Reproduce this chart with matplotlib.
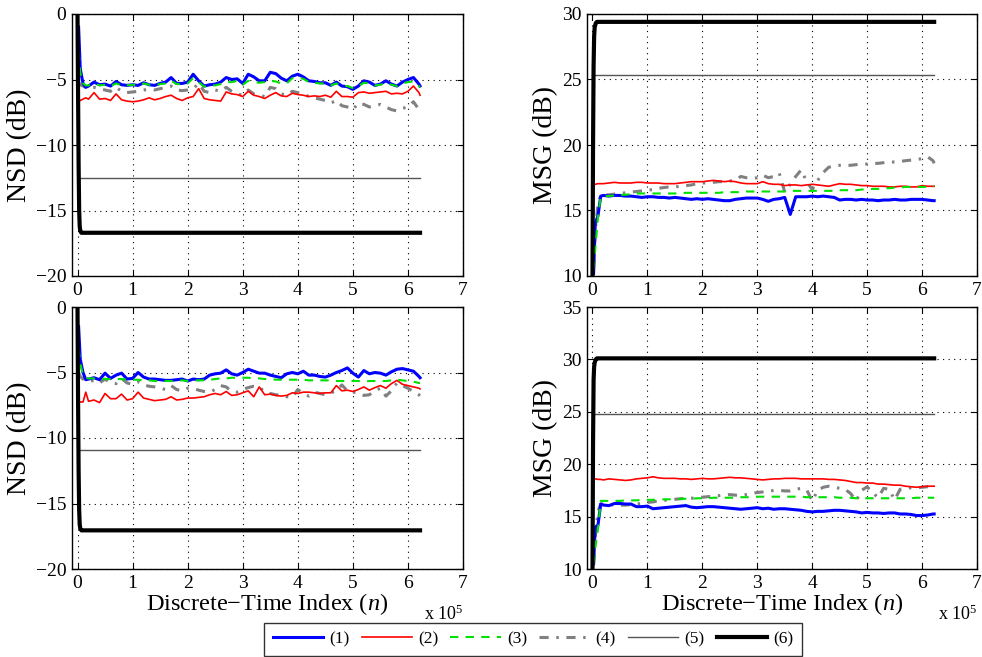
import matplotlib
matplotlib.use('Agg')
import matplotlib.pyplot as plt

plt.rcParams['font.family'] = ['Liberation Serif', 'DejaVu Serif']
plt.rcParams['mathtext.fontset'] = 'custom'
plt.rcParams['mathtext.it'] = 'Liberation Serif:italic'
plt.rcParams['mathtext.rm'] = 'Liberation Serif'

# time index in units of 1e5 samples (shared by the noisy curves)
n = [0.02, 0.05, 0.1, 0.15, 0.2, 0.3, 0.4, 0.5, 0.6, 0.7, 0.8, 0.9, 1.0,
     1.1, 1.2, 1.3, 1.4, 1.5, 1.6, 1.7, 1.8, 1.9, 2.0, 2.1, 2.2, 2.3, 2.4,
     2.5, 2.6, 2.7, 2.8, 2.9, 3.0, 3.1, 3.2, 3.3, 3.4, 3.5, 3.6, 3.7, 3.8,
     3.9, 4.0, 4.1, 4.2, 4.3, 4.4, 4.5, 4.6, 4.7, 4.8, 4.9, 5.0, 5.1, 5.2,
     5.3, 5.4, 5.5, 5.6, 5.7, 5.8, 5.9, 6.0, 6.1, 6.2, 6.22]
n_end = 6.22

# ---- top left: NSD ----
tl_1 = [-1.0, -4.2, -5.3, -5.6, -5.5, -5.2, -5.4, -5.35, -5.5, -5.15, -5.4, -5.45, -5.4,
        -5.45, -5.25, -5.4, -5.45, -5.3, -5.2, -4.85, -5.3, -5.3, -5.2, -4.6, -5.1, -5.5, -5.4,
        -5.35, -5.2, -4.85, -5.0, -4.95, -5.3, -4.6, -4.8, -5.1, -5.1, -4.45, -4.55, -4.9, -5.1,
        -4.75, -4.6, -4.8, -5.1, -5.15, -5.25, -5.25, -5.45, -5.2, -5.5, -5.55, -5.75, -5.5, -5.1,
        -5.2, -5.45, -5.35, -5.1, -5.35, -5.5, -5.2, -5.0, -4.85, -5.35, -5.5]
tl_2 = [-6.7, -6.6, -6.5, -6.4, -6.5, -6.0, -6.5, -6.45, -6.6, -6.1, -6.55, -6.65, -6.7,
        -6.65, -6.55, -6.4, -6.55, -6.45, -6.3, -6.2, -6.45, -6.6, -6.4, -6.3, -5.7, -6.45, -6.55,
        -6.6, -6.65, -5.95, -6.1, -6.15, -6.3, -5.9, -6.2, -6.3, -6.45, -6.2, -6.0, -6.25, -6.3,
        -6.05, -6.15, -6.2, -6.3, -6.25, -6.3, -6.2, -6.35, -5.9, -6.3, -6.3, -6.35, -6.0, -5.95,
        -6.05, -6.0, -5.95, -5.9, -6.1, -6.05, -6.1, -5.9, -5.5, -6.0, -6.2]
tl_3 = [-2.9, -4.5, -5.3, -5.45, -5.45, -5.3, -5.45, -5.4, -5.5, -5.3, -5.45, -5.45, -5.4,
        -5.45, -5.3, -5.4, -5.45, -5.35, -5.3, -5.1, -5.35, -5.35, -5.3, -4.9, -5.2, -5.55, -5.45,
        -5.45, -5.35, -5.2, -5.2, -5.1, -5.4, -5.1, -5.2, -5.25, -5.2, -5.1, -5.15, -5.3, -5.3,
        -4.9, -4.85, -4.95, -5.2, -5.25, -5.3, -5.3, -5.45, -5.3, -5.5, -5.5, -5.65, -5.5, -5.25,
        -5.3, -5.45, -5.4, -5.25, -5.4, -5.5, -5.3, -5.2, -5.15, -5.5, -5.6]
tl_4 = [-5.2, -5.4, -5.5, -5.6, -5.65, -5.6, -5.7, -5.8, -5.9, -5.6, -5.9, -6.0, -5.95,
        -5.9, -5.8, -5.75, -5.8, -5.7, -5.6, -5.5, -5.8, -5.85, -5.8, -5.7, -5.3, -5.9, -6.0,
        -5.8, -5.9, -5.6, -5.9, -6.1, -6.2, -5.8, -6.1, -6.2, -6.3, -5.6, -5.7, -6.1, -6.2,
        -5.9, -6.0, -6.1, -6.3, -6.4, -6.5, -6.6, -6.8, -6.6, -7.0, -7.1, -7.3, -6.8, -6.9,
        -7.1, -7.0, -6.9, -7.1, -7.3, -7.4, -7.2, -7.1, -6.7, -7.3, -7.6]
tl_5 = -12.55
tl_6_n = [0, 0.01, 0.02, 0.03, 0.04, 0.05, 0.07, 0.1, 6.22]
tl_6 = [0, -6, -11.5, -15, -16.2, -16.55, -16.7, -16.7, -16.7]

# ---- top right: MSG ----
tr_1 = [10.2, 14.0, 14.6, 16.1, 16.15, 16.1, 16.15, 16.15, 16.1, 16.1, 16.05, 16.0, 16.05,
        16.05, 16.0, 16.0, 15.95, 16.0, 15.95, 15.9, 15.85, 15.9, 15.85, 15.9, 15.85, 15.8, 15.75,
        15.75, 15.85, 15.9, 15.95, 15.95, 15.95, 15.85, 15.7, 15.85, 15.9, 16.0, 14.7, 16.05, 16.05,
        16.05, 16.1, 16.05, 16.1, 16.05, 16.0, 15.8, 15.85, 15.85, 15.8, 15.85, 15.8, 15.8, 15.75,
        15.8, 15.8, 15.85, 15.8, 15.8, 15.85, 15.85, 15.85, 15.8, 15.75, 15.75]
tr_2 = [17.0, 17.0, 17.05, 17.05, 17.05, 17.1, 17.15, 17.1, 17.1, 17.1, 17.15, 17.15, 17.1,
        17.1, 17.1, 17.05, 17.05, 17.05, 17.1, 17.15, 17.2, 17.2, 17.2, 17.25, 17.3, 17.25, 17.2,
        17.25, 17.2, 17.1, 17.05, 17.05, 17.05, 17.2, 17.05, 17.0, 17.0, 16.9, 16.95, 16.95, 16.9,
        16.95, 17.0, 16.95, 16.9, 16.85, 16.95, 17.05, 17.0, 17.0, 16.95, 16.9, 16.9, 16.85, 16.85,
        16.85, 16.8, 16.8, 16.85, 16.85, 16.8, 16.8, 16.9, 16.85, 16.85, 16.85]
tr_3 = [10.5, 12.0, 14.5, 16.05, 16.1, 16.1, 16.15, 16.2, 16.2, 16.25, 16.3, 16.3, 16.3,
        16.3, 16.3, 16.3, 16.3, 16.3, 16.3, 16.35, 16.35, 16.35, 16.35, 16.35, 16.35, 16.35, 16.4,
        16.4, 16.4, 16.4, 16.45, 16.45, 16.45, 16.45, 16.45, 16.45, 16.45, 16.45, 16.5, 16.5, 16.5,
        16.5, 16.5, 16.5, 16.5, 16.5, 16.5, 16.55, 16.55, 16.55, 16.55, 16.6, 16.6, 16.65, 16.65,
        16.7, 16.7, 16.75, 16.75, 16.8, 16.8, 16.8, 16.8, 16.8, 16.85, 16.85]
tr_4 = [10.5, 13.5, 15.5, 16.2, 16.2, 16.2, 16.25, 16.3, 16.35, 16.4, 16.45, 16.5, 16.55,
        16.6, 16.7, 16.75, 16.8, 16.8, 16.85, 16.9, 16.95, 17.05, 17.1, 17.1, 17.15, 17.2, 17.2,
        17.25, 17.3, 17.6, 17.5, 17.45, 17.5, 17.7, 17.5, 17.6, 17.85, 16.4, 17.0, 17.6, 18.1,
        17.2, 16.6, 17.3, 17.9, 18.3, 18.4, 18.45, 18.45, 18.45, 18.5, 18.55, 18.55, 18.6, 18.6,
        18.65, 18.7, 18.7, 18.75, 18.8, 18.85, 18.9, 18.95, 19.1, 18.8, 18.6]
tr_5 = 25.35
tr_6_n = [0, 0.01, 0.02, 0.03, 0.04, 0.06, 0.08, 0.1, 6.22]
tr_6 = [10, 20, 26, 28.3, 29.0, 29.3, 29.4, 29.4, 29.4]

# ---- bottom left: NSD ----
bl_1 = [-1.5, -4.0, -5.0, -5.55, -5.5, -5.4, -5.55, -5.05, -5.45, -5.2, -5.05, -5.5, -5.45,
        -5.0, -5.35, -5.5, -5.5, -5.55, -5.6, -5.6, -5.55, -5.5, -5.65, -5.5, -5.55, -5.5, -5.2,
        -5.1, -5.05, -4.8, -5.1, -5.2, -5.0, -4.75, -4.9, -5.05, -5.05, -5.2, -5.3, -5.4, -5.1,
        -5.0, -5.1, -4.9, -5.2, -5.2, -5.3, -5.35, -5.2, -5.0, -4.85, -4.65, -5.05, -5.35, -4.85,
        -5.1, -5.0, -5.05, -5.2, -4.95, -4.75, -4.7, -4.8, -4.9, -5.3, -5.4]
bl_2 = [-7.2, -7.25, -7.25, -6.5, -7.2, -7.1, -7.3, -6.6, -7.0, -7.0, -6.65, -7.1, -7.0,
        -6.5, -6.95, -7.05, -7.15, -7.1, -7.05, -6.85, -7.1, -7.05, -6.95, -6.95, -6.9, -6.85, -6.7,
        -6.6, -6.7, -6.45, -6.75, -6.7, -6.55, -6.4, -6.85, -6.1, -6.7, -6.65, -6.75, -6.8, -6.75,
        -6.55, -6.6, -6.5, -6.5, -6.55, -6.6, -6.55, -6.55, -6.0, -6.4, -6.35, -6.45, -6.3, -6.1,
        -6.35, -6.15, -6.0, -6.2, -5.85, -5.6, -5.9, -6.0, -6.1, -6.2, -6.25]
bl_3 = [-3.2, -4.3, -5.2, -5.4, -5.45, -5.45, -5.5, -5.5, -5.5, -5.5, -5.5, -5.55, -5.55,
        -5.55, -5.6, -5.6, -5.65, -5.65, -5.65, -5.65, -5.65, -5.6, -5.65, -5.6, -5.6, -5.6, -5.55,
        -5.5, -5.45, -5.45, -5.4, -5.4, -5.4, -5.4, -5.45, -5.45, -5.5, -5.5, -5.55, -5.55, -5.55,
        -5.55, -5.55, -5.55, -5.6, -5.6, -5.6, -5.6, -5.6, -5.65, -5.65, -5.65, -5.65, -5.65, -5.7,
        -5.65, -5.65, -5.65, -5.65, -5.6, -5.55, -5.6, -5.65, -5.7, -5.8, -5.8]
bl_4 = [-5.0, -5.3, -5.5, -5.6, -5.7, -5.6, -5.8, -5.5, -5.8, -5.85, -5.45, -5.8, -5.9,
        -5.7, -5.95, -6.05, -6.1, -6.2, -6.3, -6.0, -6.3, -6.4, -6.2, -6.2, -6.35, -6.45, -6.5,
        -6.3, -6.0, -6.1, -6.45, -6.5, -6.3, -6.15, -6.05, -6.1, -6.5, -6.6, -6.7, -6.75, -6.85,
        -6.9, -6.3, -6.6, -6.8, -6.5, -6.6, -6.7, -6.55, -6.4, -5.95, -6.4, -6.5, -6.55, -6.75,
        -6.7, -6.4, -6.2, -6.8, -6.4, -5.8, -6.0, -6.2, -6.45, -6.7, -6.8]
bl_5 = -10.95
bl_6_n = [0, 0.01, 0.02, 0.03, 0.04, 0.05, 0.07, 0.1, 6.22]
bl_6 = [0, -7, -12.5, -15.5, -16.6, -16.9, -17.05, -17.05, -17.05]

# ---- bottom right: MSG ----
br_1 = [10.5, 14.0, 14.2, 16.2, 16.1, 16.05, 16.25, 16.25, 16.2, 16.2, 15.95, 15.95, 16.0,
        15.75, 15.8, 15.85, 15.9, 15.95, 16.0, 16.05, 15.9, 15.85, 15.9, 15.95, 15.95, 15.9, 15.85,
        15.8, 15.75, 15.7, 15.75, 15.8, 15.85, 15.75, 15.8, 15.7, 15.75, 15.75, 15.7, 15.65, 15.6,
        15.5, 15.45, 15.5, 15.5, 15.55, 15.6, 15.6, 15.55, 15.5, 15.45, 15.35, 15.4, 15.35, 15.35,
        15.3, 15.35, 15.35, 15.25, 15.25, 15.2, 15.1, 15.1, 15.15, 15.25, 15.25]
br_2 = [18.6, 18.6, 18.55, 18.55, 18.5, 18.6, 18.55, 18.5, 18.45, 18.5, 18.6, 18.65, 18.7,
        18.8, 18.7, 18.65, 18.65, 18.65, 18.6, 18.6, 18.55, 18.6, 18.65, 18.6, 18.6, 18.65, 18.7,
        18.75, 18.7, 18.7, 18.65, 18.6, 18.55, 18.5, 18.55, 18.6, 18.6, 18.65, 18.65, 18.65, 18.6,
        18.6, 18.6, 18.6, 18.6, 18.55, 18.55, 18.5, 18.45, 18.35, 18.25, 18.25, 18.2, 18.2, 18.1,
        18.1, 18.05, 18.0, 18.0, 17.9, 17.85, 17.8, 17.85, 17.9, 17.9, 17.9]
br_3 = [10.5, 12.0, 13.8, 16.5, 16.5, 16.5, 16.5, 16.5, 16.55, 16.55, 16.55, 16.6, 16.6,
        16.6, 16.6, 16.65, 16.65, 16.65, 16.7, 16.7, 16.7, 16.75, 16.75, 16.75, 16.8, 16.8, 16.8,
        16.8, 16.8, 16.85, 16.85, 16.85, 16.9, 16.9, 16.9, 16.9, 16.9, 16.9, 16.9, 16.9, 16.9,
        16.85, 16.85, 16.85, 16.85, 16.85, 16.85, 16.8, 16.8, 16.8, 16.75, 16.75, 16.75, 16.75, 16.75,
        16.75, 16.75, 16.75, 16.75, 16.75, 16.75, 16.8, 16.8, 16.8, 16.8, 16.8]
br_4 = [10.5, 13.0, 15.5, 16.2, 16.2, 16.15, 16.1, 16.1, 16.1, 16.15, 16.2, 16.25, 16.35,
        16.4, 16.5, 16.55, 16.6, 16.65, 16.7, 16.75, 16.75, 16.8, 16.85, 16.9, 16.95, 17.0, 17.05,
        17.1, 17.05, 17.0, 17.1, 17.2, 17.3, 17.35, 17.4, 17.5, 17.5, 17.45, 17.45, 17.6, 17.7,
        17.55, 16.5, 17.5, 17.8, 17.9, 17.8, 17.7, 17.6, 17.2, 16.5, 17.5, 17.85, 17.3, 16.8,
        17.7, 17.6, 16.6, 17.6, 17.7, 17.75, 17.75, 17.8, 17.85, 17.9, 17.9]
br_5 = 24.75
br_6_n = [0, 0.01, 0.02, 0.03, 0.04, 0.06, 0.08, 0.1, 6.22]
br_6 = [10, 22, 28, 29.3, 29.7, 30.0, 30.1, 30.1, 30.1]

labels = ['(1)', '(2)', '(3)', '(4)', '(5)', '(6)']

fig = plt.figure(figsize=(9.82, 6.57), dpi=100)
W, H = 982, 657


def add_ax(l, t, r, b):
    return fig.add_axes([l / W, 1 - b / H, (r - l) / W, (b - t) / H])


panels = [
    (add_ax(72, 14, 463, 276), [tl_1, tl_2, tl_3, tl_4], tl_5, tl_6_n, tl_6, 'NSD (dB)', (-20, 0), range(-20, 1, 5), False),
    (add_ax(587, 14, 977, 276), [tr_1, tr_2, tr_3, tr_4], tr_5, tr_6_n, tr_6, 'MSG (dB)', (10, 30), range(10, 31, 5), False),
    (add_ax(72, 307, 463, 569), [bl_1, bl_2, bl_3, bl_4], bl_5, bl_6_n, bl_6, 'NSD (dB)', (-20, 0), range(-20, 1, 5), True),
    (add_ax(587, 307, 977, 569), [br_1, br_2, br_3, br_4], br_5, br_6_n, br_6, 'MSG (dB)', (10, 35), range(10, 36, 5), True),
]

for ax, (s1, s2, s3, s4), ref, n6, s6, ylab, ylim, yt, bottom in panels:
    h = []
    h += ax.plot(n, s1, color='#0000ff', lw=2.2, zorder=5)
    h += ax.plot(n, s2, color='#ff0000', lw=1.2, zorder=4)
    h += ax.plot(n, s3, color='#00e000', lw=1.5, dashes=(4, 3.5), zorder=6)
    h += ax.plot(n, s4, color='#808080', lw=2.2, dashes=(3, 2.5, 0.8, 2.5), zorder=3)
    h += ax.plot([0, n_end], [ref, ref], color='#555555', lw=1.0, zorder=2)
    h += ax.plot(n6, s6, color='black', lw=3.0, zorder=7)
    ax.set_xlim(-0.1, 7)
    ax.set_ylim(*ylim)
    ax.set_xticks(range(0, 8))
    ax.set_yticks(list(yt))
    ax.grid(True, color='black', ls=(0, (1, 4)), lw=0.8)
    ax.tick_params(direction='in', top=True, right=True, length=4, labelsize=14, pad=4)
    ax.set_ylabel(ylab, fontsize=20, labelpad=3)
    for sp in ax.spines.values():
        sp.set_linewidth(1.0)
    if bottom:
        ax.set_xlabel('Discrete\u2212Time Index ($n$)', fontsize=17.5, labelpad=0)
        ax.text(1.0, -0.135, 'x 10$^5$', transform=ax.transAxes, ha='right', va='top', fontsize=13)
    handles = h

fig.legend(handles, labels, loc='lower center', bbox_to_anchor=(533 / W, -0.012), ncol=6,
           fontsize=12.5, frameon=True, fancybox=False, edgecolor='black', handlelength=2.9,
           columnspacing=0.7, handletextpad=0.35, borderpad=0.5)

fig.savefig('out.png', dpi=100)
